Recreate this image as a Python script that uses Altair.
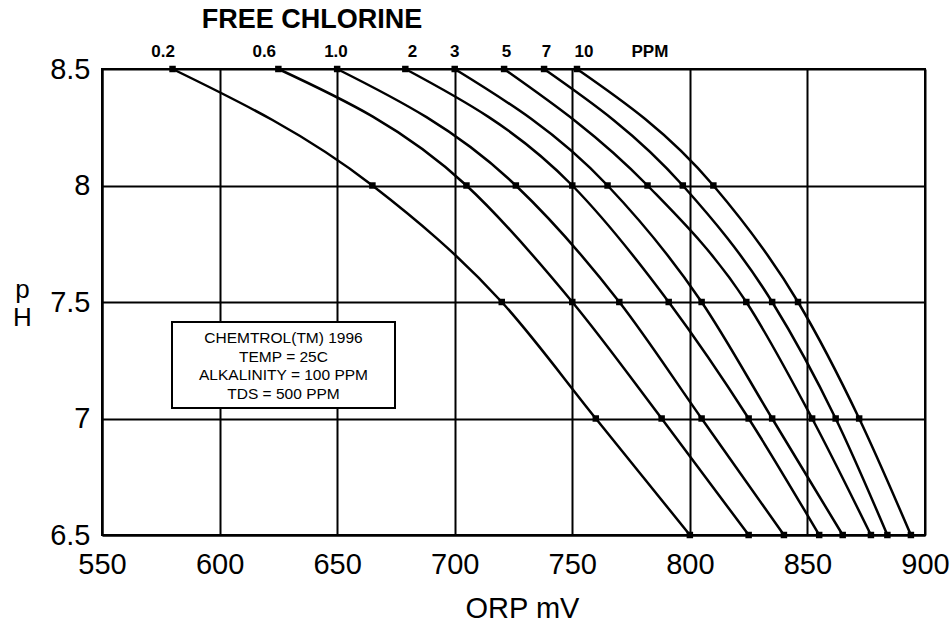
import altair as alt
import pandas as pd

# ---- data ----
ppm_levels = ["0.2", "0.6", "1.0", "2", "3", "5", "7", "10"]
ph_levels = [8.5, 8.0, 7.5, 7.0, 6.5]
orp_02 = [580, 665, 720, 760, 800]
orp_06 = [625, 705, 750, 788, 825]
orp_10 = [650, 726, 770, 805, 840]
orp_2 = [679, 750, 791, 825, 855]
orp_3 = [700, 765, 805, 835, 865]
orp_5 = [721, 782, 824, 852, 877]
orp_7 = [738, 797, 835, 862, 884]
orp_10ppm = [752, 810, 846, 872, 894]

top_labels = ["0.2", "0.6", "1.0", "2", "3", "5", "7", "10", "PPM"]
top_label_mv = [576, 619, 649.5, 682, 700, 722, 739, 755, 783]

x_ticks = [550, 600, 650, 700, 750, 800, 850, 900]
y_ticks = [6.5, 7.0, 7.5, 8.0, 8.5]

box_lines = ["CHEMTROL(TM) 1996", "TEMP = 25C", "ALKALINITY = 100 PPM", "TDS = 500 PPM"]
chart_title = "FREE CHLORINE"

FONT = "Liberation Sans"

series = [orp_02, orp_06, orp_10, orp_2, orp_3, orp_5, orp_7, orp_10ppm]
rows = []
for name, vals in zip(ppm_levels, series):
    for ph, mv in zip(ph_levels, vals):
        rows.append({"ppm": name, "ph": ph, "orp": mv})
df = pd.DataFrame(rows)
lab_df = pd.DataFrame({"label": top_labels, "orp": top_label_mv})

xscale = alt.Scale(domain=[550, 900], nice=False, zero=False)
yscale = alt.Scale(domain=[6.5, 8.5], nice=False, zero=False)

x_axis = alt.Axis(
    values=x_ticks, grid=True, gridColor="black", gridWidth=2, gridOpacity=1,
    ticks=False, tickSize=0, domainColor="black", domainWidth=2,
    labelFont=FONT, labelFontSize=29, labelColor="black", labelPadding=15,
    labelFlush=False, labelOverlap=False,
    title="ORP mV", titleFont=FONT, titleFontSize=29, titleFontWeight="normal",
    titleColor="black", titleX=420, titleY=82, titleBaseline="alphabetic",
    titleAlign="center",
)
y_axis = alt.Axis(
    values=y_ticks, format="~g", grid=True, gridColor="black", gridWidth=2,
    gridOpacity=1, ticks=False, tickSize=0, domainColor="black", domainWidth=2,
    labelFont=FONT, labelFontSize=29, labelColor="black", labelPadding=12,
    labelFlush=False, labelOverlap=False,
    title=["p", "H"], titleFont=FONT, titleFontSize=26, titleFontWeight="normal",
    titleColor="black", titleAngle=0, titleAlign="center", titleBaseline="middle",
    titleX=-80, titleY=220, titleLineHeight=28,
)

X = alt.X("orp:Q", scale=xscale, axis=x_axis)
Y = alt.Y("ph:Q", scale=yscale, axis=y_axis)

base = alt.Chart(df)
lines = base.mark_line(color="black", strokeWidth=2.5, interpolate="monotone").encode(
    x=X, y=Y, detail="ppm:N",
)
points = base.mark_square(color="black", size=42, opacity=1).encode(x=X, y=Y)

labels = alt.Chart(lab_df).mark_text(
    font=FONT, fontSize=17, fontWeight="bold", color="black",
    align="center", baseline="middle",
).encode(
    x=X,
    y=alt.value(-17),
    text="label:N",
)

title_df = pd.DataFrame({"t": [chart_title]})
title = alt.Chart(title_df).mark_text(
    font=FONT, fontSize=27, fontWeight="bold", color="black",
    align="center", baseline="middle",
).encode(x=alt.value(210), y=alt.value(-49), text="t:N")

box_df = pd.DataFrame({"t": ["\n".join(box_lines)]})
box = alt.Chart(box_df).mark_rect(fill="white", stroke="black", strokeWidth=2).encode(
    x=alt.value(70), x2=alt.value(293), y=alt.value(253), y2=alt.value(339)
)
box_text = alt.Chart(box_df).mark_text(
    font=FONT, fontSize=15.5, color="black", align="center", baseline="middle",
    lineBreak="\n", lineHeight=18.5,
).encode(x=alt.value(181.5), y=alt.value(269), text="t:N")

chart = alt.layer(lines, points, box, box_text, labels, title).properties(
    width=823, height=466,
    autosize=alt.AutoSizeParams(type="none"),
    padding={"left": 102, "top": 69, "right": 27, "bottom": 89},
    background="white",
).configure_view(stroke="black", strokeWidth=2)

chart.save("out.html", embed_options={"renderer": "svg", "actions": False})
